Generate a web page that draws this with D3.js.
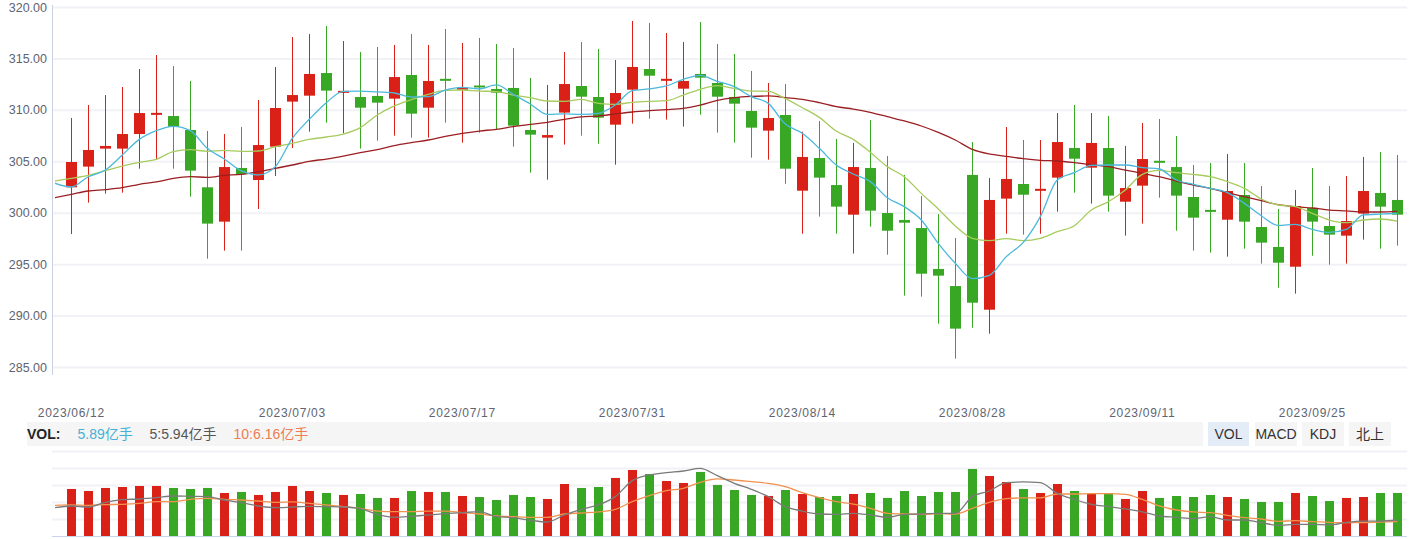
<!DOCTYPE html>
<html><head><meta charset="utf-8">
<script src="https://cdn.jsdelivr.net/npm/d3@7"></script>
<style>
html,body{margin:0;padding:0;background:#fff;}
svg{display:block;font-family:"Liberation Sans",Arial,"Noto Sans CJK SC",sans-serif;}
</style></head><body>
<svg id="chart" width="1420" height="539"></svg>
<script>
// ---------- DATA ----------
const dates = [
"2023/06/12","2023/06/13","2023/06/14","2023/06/15","2023/06/16","2023/06/19","2023/06/20","2023/06/21","2023/06/26","2023/06/27",
"2023/06/28","2023/06/29","2023/06/30","2023/07/03","2023/07/04","2023/07/05","2023/07/06","2023/07/07","2023/07/10","2023/07/11",
"2023/07/12","2023/07/13","2023/07/14","2023/07/17","2023/07/18","2023/07/19","2023/07/20","2023/07/21","2023/07/24","2023/07/25",
"2023/07/26","2023/07/27","2023/07/28","2023/07/31","2023/08/01","2023/08/02","2023/08/03","2023/08/04","2023/08/07","2023/08/08",
"2023/08/09","2023/08/10","2023/08/11","2023/08/14","2023/08/15","2023/08/16","2023/08/17","2023/08/18","2023/08/21","2023/08/22",
"2023/08/23","2023/08/24","2023/08/25","2023/08/28","2023/08/29","2023/08/30","2023/08/31","2023/09/01","2023/09/04","2023/09/05",
"2023/09/06","2023/09/07","2023/09/08","2023/09/11","2023/09/12","2023/09/13","2023/09/14","2023/09/15","2023/09/18","2023/09/19",
"2023/09/20","2023/09/21","2023/09/22","2023/09/25","2023/09/26","2023/09/27","2023/09/28","2023/10/09","2023/10/10"];

const xTickLabels = ["2023/06/12","2023/07/03","2023/07/17","2023/07/31","2023/08/14","2023/08/28","2023/09/11","2023/09/25"];
const priceTicks = [285,290,295,300,305,310,315,320];

const open = [302.47,304.48,306.23,306.23,307.65,309.53,309.40,308.04,302.47,299.13,
304.35,303.18,306.42,310.80,311.38,313.58,311.67,311.25,311.35,311.09,
313.39,310.21,313.00,311.96,312.32,312.03,312.13,308.04,307.30,309.73,
312.32,311.25,308.56,311.96,313.97,312.84,312.06,313.49,312.61,311.25,
309.89,307.98,309.50,302.14,305.32,302.69,299.81,304.35,299.97,299.29,
298.51,294.53,292.87,303.67,290.57,301.37,302.79,302.14,303.41,306.29,
304.38,306.29,301.07,302.63,305.03,304.44,301.53,300.26,299.32,301.72,
298.61,296.67,294.75,300.46,298.71,297.77,299.91,301.92,301.24];

const close = [304.93,306.10,306.49,307.65,309.69,309.69,308.37,304.09,298.94,304.44,
303.76,306.58,310.18,311.44,313.49,311.87,311.83,310.21,310.70,313.19,
309.63,312.81,312.84,312.16,312.22,311.67,308.46,307.59,307.55,312.51,
311.28,309.24,311.64,314.17,313.32,313.00,312.81,313.13,311.28,310.60,
308.27,309.21,304.28,305.42,303.41,300.59,304.44,300.20,298.25,299.03,
294.07,293.88,288.73,291.25,301.24,303.28,301.75,302.31,306.87,305.25,
306.78,301.66,302.40,305.22,304.87,301.66,299.52,300.10,302.11,299.13,
297.09,295.14,300.65,299.13,297.87,299.19,302.11,300.59,299.81];

const high = [309.21,310.47,311.44,312.22,313.97,315.33,314.26,312.81,307.94,307.65,
308.33,310.96,314.17,317.08,317.37,318.15,316.69,315.62,316.11,316.31,
317.37,316.31,317.86,316.50,316.99,316.40,316.01,313.10,312.42,315.62,
316.60,315.92,314.85,318.64,318.44,317.47,316.60,318.54,316.40,315.43,
313.78,312.61,312.51,307.88,308.92,307.17,306.78,309.01,305.51,303.67,
301.62,299.87,297.54,306.87,303.37,308.33,307.07,307.07,309.69,310.47,
309.69,309.40,306.49,308.72,309.11,307.46,304.64,304.83,305.71,304.83,
302.60,300.36,302.21,304.35,302.60,303.57,305.42,305.90,305.61];

const low = [297.93,300.98,301.85,301.95,304.28,305.19,304.28,301.56,295.53,296.31,
296.31,300.36,303.57,306.29,307.88,308.75,307.72,306.23,307.00,307.49,
307.30,307.30,308.75,306.81,307.78,308.07,306.42,303.89,303.21,306.62,
307.49,306.71,304.67,308.66,309.14,309.05,308.37,309.53,307.78,306.81,
305.35,305.16,302.82,297.96,299.62,297.96,296.02,298.64,295.92,291.94,
291.84,289.21,285.81,288.82,288.24,297.96,297.87,297.96,300.10,301.95,
300.88,300.10,297.77,298.94,301.46,298.25,296.31,296.12,295.73,296.50,
295.05,292.71,292.13,295.82,294.95,295.05,297.38,296.50,296.80];

// moving averages: first value belongs to the session before 2023/06/12
const ma5 = [302.89,
302.50,303.50,304.15,305.61,307.13,307.98,308.40,307.98,306.26,305.22,
304.06,303.67,304.48,307.23,309.08,310.70,311.80,311.83,311.74,311.64,
311.25,311.28,311.93,312.19,312.03,312.42,311.51,310.57,309.56,309.60,
309.56,309.66,310.47,311.87,312.03,312.32,312.97,313.36,312.77,312.25,
311.28,310.63,308.62,307.72,306.26,304.64,303.76,303.02,301.46,300.59,
299.29,297.02,295.08,293.59,293.91,295.73,297.12,299.62,303.18,303.89,
304.61,304.64,304.64,304.38,304.25,303.18,302.76,302.37,301.95,300.91,
299.71,298.77,298.87,298.38,298.09,298.38,299.78,299.87,299.94];

const ma10 = [303.08,
303.34,303.63,304.09,304.54,304.90,305.19,305.94,306.13,305.97,306.06,
305.97,306.00,306.42,306.75,307.13,307.36,307.65,308.27,309.50,310.38,
310.99,311.51,311.90,311.93,311.83,311.77,311.44,311.19,310.86,310.83,
311.02,310.63,310.54,310.73,310.83,310.89,311.44,312.00,312.35,312.09,
311.83,311.80,311.09,310.21,309.27,307.94,307.13,305.87,304.48,303.50,
301.88,300.36,298.71,297.51,297.28,297.48,297.28,297.51,298.16,298.74,
300.26,301.07,302.21,303.73,304.12,303.89,303.73,303.50,303.02,302.37,
301.33,300.75,300.59,299.94,299.29,299.03,299.29,299.39,299.19];

const ma30 = [301.46,
301.79,302.11,302.24,302.43,302.76,302.99,303.34,303.50,303.44,303.63,
303.73,303.99,304.31,304.64,305.00,305.22,305.51,305.84,306.13,306.52,
306.81,307.07,307.43,307.72,307.94,308.11,308.37,308.59,308.79,309.08,
309.31,309.40,309.60,309.79,309.92,310.02,310.15,310.47,310.93,311.19,
311.31,311.35,311.19,311.02,310.70,310.31,310.08,309.76,309.34,308.92,
308.43,307.81,307.07,306.16,305.71,305.48,305.25,305.09,305.03,304.87,
304.67,304.48,304.15,303.83,303.50,303.08,302.69,302.37,301.95,301.56,
301.17,300.78,300.59,300.46,300.26,300.17,300.07,300.07,300.13];

// volume in 亿手
const volume = [6.44,6.16,6.58,6.71,6.85,6.85,6.58,6.44,6.58,5.89,
6.03,5.62,6.03,6.85,6.16,5.89,5.62,5.75,5.21,5.21,
6.16,6.03,6.03,5.48,5.34,4.93,5.62,5.34,5.07,7.12,
6.58,6.71,7.95,9.04,8.49,7.53,7.26,8.77,6.99,6.30,
5.62,5.48,6.30,5.75,5.34,5.48,5.75,5.89,5.21,6.16,
5.48,6.03,6.03,9.18,8.22,7.40,6.44,5.89,7.12,6.16,
5.75,5.89,5.07,6.16,5.21,5.48,5.34,5.62,5.34,5.07,
4.66,4.66,5.89,5.48,4.79,5.21,5.34,5.89,5.89];

const volMa5 = [3.88,
4.11,3.97,4.61,4.98,5.07,5.25,5.48,5.43,5.39,4.93,
4.57,4.11,3.88,3.97,4.06,4.02,3.97,3.74,2.97,2.56,
2.69,2.88,3.06,3.20,3.33,2.65,2.51,2.15,1.92,2.88,
3.65,4.25,5.39,7.58,8.36,8.68,8.90,9.27,8.26,7.21,
6.39,5.39,4.02,3.42,3.01,2.97,3.11,2.88,2.56,2.97,
3.01,3.11,3.11,5.39,6.16,7.31,7.40,7.31,5.84,5.02,
4.34,4.02,3.70,3.29,2.74,2.56,2.37,2.65,2.19,2.19,
1.83,1.46,1.60,1.60,1.51,1.87,2.05,2.05,2.19];

const volMa10 = [4.20,
4.25,4.20,4.29,4.34,4.47,4.70,4.70,5.02,5.16,5.02,
4.93,4.79,4.61,4.66,4.47,4.25,4.02,3.79,3.42,3.33,
3.33,3.42,3.42,3.20,3.01,2.74,2.65,2.56,2.56,3.01,
3.15,3.29,3.65,4.70,5.53,6.21,6.53,7.35,7.81,7.67,
7.44,7.21,6.76,5.94,5.25,4.70,4.38,3.79,3.11,3.01,
2.97,3.06,3.01,3.79,4.61,5.11,5.21,5.21,5.75,5.75,
5.80,5.80,5.71,5.02,4.11,3.56,3.29,3.20,2.83,2.51,
2.33,2.01,2.10,1.96,1.87,1.83,1.83,1.92,1.96];

const legendItems = [
  {text:"5.89亿手", color:"#45b1d6"},
  {text:"5:5.94亿手", color:"#555555"},
  {text:"10:6.16亿手", color:"#ee7d52"}];
const buttons = ["VOL","MACD","KDJ","北上"];

// ---------- DRAW ----------
const RED = "#da2117", GREEN = "#38a824";
const svg = d3.select("#chart");
const plotL = 52, plotR = 1407;

const x = d3.scaleBand().domain(dates).range([62.8, 1405.8]).padding(0);
const step = x.step();
const cx = i => x(dates[i]) + step / 2;
const cxMA = k => cx(0) + (k - 1) * step;
const y = d3.scaleLinear().domain([285, 320]).range([367, 7]);
const yv = d3.scaleLinear().domain([0, 11.64]).range([536, 451]);

svg.append("defs").append("clipPath").attr("id","clipP")
  .append("rect").attr("x",55).attr("y",0).attr("width",plotR-55).attr("height",539);

// grid (price)
const grid = svg.append("g").attr("transform",`translate(${plotL},0)`)
  .call(d3.axisLeft(y).tickValues(priceTicks).tickSize(-(plotR-plotL)).tickFormat(""));
grid.select(".domain").remove();
grid.selectAll("line").attr("stroke","#f1f2f5").attr("stroke-width",2);

// y axis line + labels
svg.append("line").attr("x1",plotL+0.5).attr("x2",plotL+0.5).attr("y1",5).attr("y2",375)
  .attr("stroke","#c9d1de").attr("stroke-width",1);
const ya = svg.append("g").attr("transform",`translate(${plotL},0)`)
  .call(d3.axisLeft(y).tickValues(priceTicks).tickSize(0).tickPadding(5).tickFormat(d3.format(".2f")));
ya.select(".domain").remove();
ya.selectAll("text").attr("fill","#5e6470").attr("font-size",12.5)
  .attr("font-family",'"Liberation Sans",Arial,sans-serif');

// x axis labels
const xa = svg.append("g").attr("transform","translate(0,408)")
  .call(d3.axisBottom(x).tickValues(xTickLabels).tickSize(0).tickPadding(0));
xa.select(".domain").remove();
xa.selectAll("text").attr("fill","#5e6470").attr("font-size",12)
  .attr("letter-spacing","0.7px").attr("font-family",'"Liberation Sans",Arial,sans-serif');

// candles
const cg = svg.append("g");
dates.forEach((d,i)=>{
  const up = close[i] >= open[i];
  const col = up ? RED : GREEN;
  const xc = Math.round(cx(i));
  cg.append("line").attr("x1",xc+0.5).attr("x2",xc+0.5)
    .attr("y1",y(high[i])).attr("y2",y(low[i])).attr("stroke",col).attr("stroke-width",1);
  const top = y(Math.max(open[i],close[i])), bot = y(Math.min(open[i],close[i]));
  const h = Math.max(2, bot-top);
  cg.append("rect").attr("x",xc-5).attr("width",11)
    .attr("y", bot-top < 2 ? (top+bot)/2-1 : top).attr("height",h).attr("fill",col);
});

// MA lines (price), drawn over candles
const maLine = d3.line().x((d,k)=>cxMA(k)).y(d=>y(d)).curve(d3.curveMonotoneX);
const maG = svg.append("g").attr("clip-path","url(#clipP)");
[[ma30,"#9b1f22"],[ma10,"#a7cb5e"],[ma5,"#4bb8dc"]].forEach(([arr,c])=>{
  maG.append("path").datum(arr).attr("d",maLine).attr("fill","none")
    .attr("stroke",c).attr("stroke-width",1.3);
});

// legend bar
svg.append("rect").attr("x",27).attr("y",422).attr("width",1176).attr("height",24).attr("fill","#f5f5f5");
svg.append("text").attr("x",27).attr("y",439).attr("font-size",14).attr("font-weight","bold")
  .attr("fill","#222").text("VOL:");
const legX = [77.5, 149.5, 233.5];
legendItems.forEach((it,k)=>{
  svg.append("text").attr("x",legX[k]).attr("y",439).attr("font-size",14)
    .attr("fill",it.color).text(it.text);
});
// buttons
const btnX = [1208,1255,1302,1349], btnW=[41,42,42,42];
buttons.forEach((b,k)=>{
  svg.append("rect").attr("x",btnX[k]).attr("y",422).attr("width",btnW[k]).attr("height",24)
    .attr("fill", k===0 ? "#e4ecf7" : "#f5f5f5");
  svg.append("text").attr("x",btnX[k]+btnW[k]/2).attr("y",439).attr("text-anchor","middle")
    .attr("font-size",14).attr("fill","#333")
    .attr("font-family",'"Liberation Sans",Arial,"Noto Sans CJK SC",sans-serif').text(b);
});

// volume grid
const vgrid = svg.append("g").attr("transform",`translate(${plotL},0)`)
  .call(d3.axisLeft(yv).tickValues(d3.range(1,6).map(k=>11.64*k/5)).tickSize(-(plotR-plotL)).tickFormat(""));
vgrid.select(".domain").remove();
vgrid.selectAll("line").attr("stroke","#f1f2f5").attr("stroke-width",2);

// volume bars
svg.append("g").selectAll("rect").data(volume).join("rect")
  .attr("x",(d,i)=>Math.round(cx(i))-4).attr("width",9)
  .attr("y",d=>yv(d)).attr("height",d=>yv(0)-yv(d))
  .attr("fill",(d,i)=> close[i]>=open[i] ? RED : GREEN);

// volume x axis line
svg.append("line").attr("x1",plotL).attr("x2",plotR).attr("y1",536.5).attr("y2",536.5)
  .attr("stroke","#c8d4ec").attr("stroke-width",1);

// volume MA lines
const vLine = d3.line().x((d,k)=>cxMA(k)).y(d=>yv(d)).curve(d3.curveMonotoneX);
const vg = svg.append("g").attr("clip-path","url(#clipP)");
vg.append("path").datum(volMa10).attr("d",vLine).attr("fill","none").attr("stroke","#f0914f").attr("stroke-width",1.3);
vg.append("path").datum(volMa5).attr("d",vLine).attr("fill","none").attr("stroke","#7a7a7a").attr("stroke-width",1.3);
</script>
</body></html>
